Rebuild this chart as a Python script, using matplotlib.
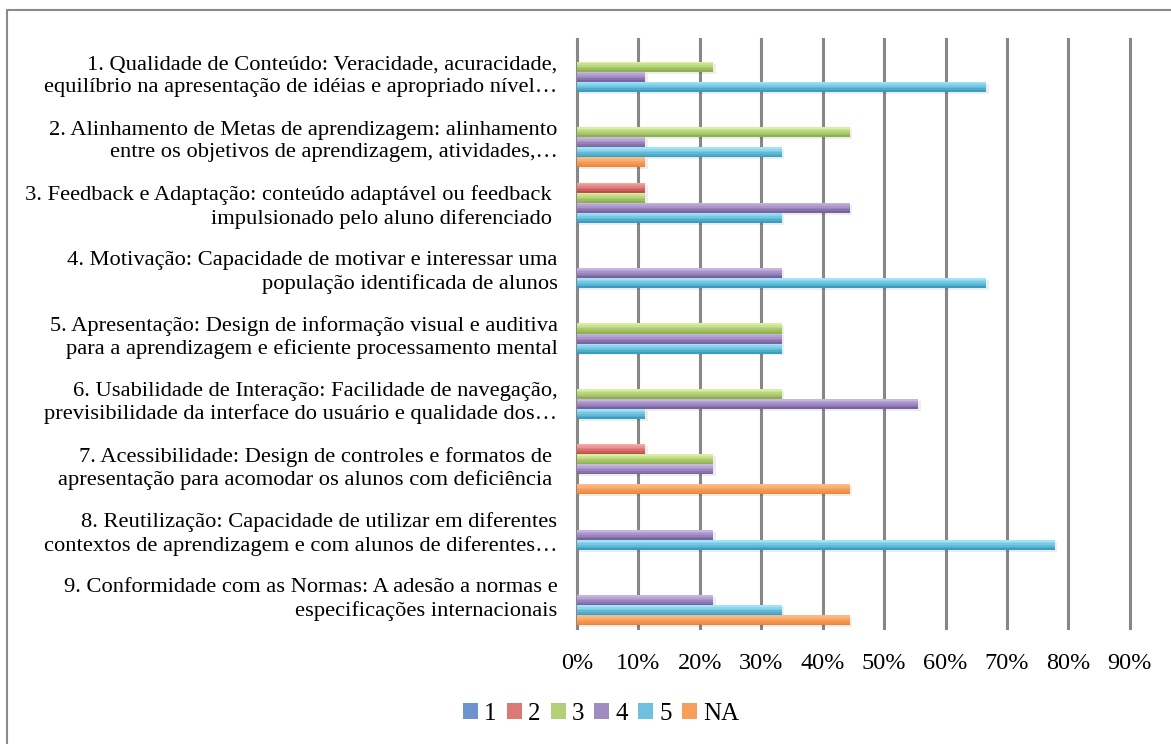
import numpy as np
import matplotlib
matplotlib.use("Agg")
import matplotlib.pyplot as plt
from matplotlib.patches import Patch, Rectangle
from matplotlib.colors import to_rgb

# categories (top to bottom)
categories = [
    "1. Qualidade de Conteúdo: Veracidade, acuracidade,\nequilíbrio na apresentação de idéias e apropriado nível…",
    "2. Alinhamento de Metas de aprendizagem: alinhamento\nentre os objetivos de aprendizagem, atividades,…",
    "3. Feedback e Adaptação: conteúdo adaptável ou feedback \nimpulsionado pelo aluno diferenciado ",
    "4. Motivação: Capacidade de motivar e interessar uma\npopulação identificada de alunos",
    "5. Apresentação: Design de informação visual e auditiva\npara a aprendizagem e eficiente processamento mental",
    "6. Usabilidade de Interação: Facilidade de navegação,\nprevisibilidade da interface do usuário e qualidade dos…",
    "7. Acessibilidade: Design de controles e formatos de \napresentação para acomodar os alunos com deficiência ",
    "8. Reutilização: Capacidade de utilizar em diferentes\ncontextos de aprendizagem e com alunos de diferentes…",
    "9. Conformidade com as Normas: A adesão a normas e\nespecificações internacionais",
]

series_names = ["1", "2", "3", "4", "5", "NA"]

# shares of answers per category (fraction)
s1 = [0, 0, 0, 0, 0, 0, 0, 0, 0]
s2 = [0, 0, 1/9, 0, 0, 0, 1/9, 0, 0]
s3 = [2/9, 4/9, 1/9, 0, 3/9, 3/9, 2/9, 0, 0]
s4 = [1/9, 1/9, 4/9, 3/9, 3/9, 5/9, 2/9, 2/9, 2/9]
s5 = [6/9, 3/9, 3/9, 6/9, 3/9, 1/9, 0, 7/9, 3/9]
sna = [0, 1/9, 0, 0, 0, 0, 4/9, 0, 4/9]
series_values = [s1, s2, s3, s4, s5, sna]

# light / dark ends of the gradient fill
light = ["#9db9eb", "#f5a5a3", "#d7efa0", "#c6b5e2", "#a0e4fa", "#fdb984"]
dark = ["#3e6db0", "#c04c4a", "#8fb050", "#7a62a0", "#3a9ec0", "#ee8534"]

plt.rcParams['font.family'] = ['Liberation Serif', 'DejaVu Serif']

fig = plt.figure(figsize=(11.71, 7.44), dpi=100)
ax = fig.add_axes([577/1171, 1 - 628/744, (1131 - 577)/1171, (628 - 39)/744])

y = np.arange(len(categories))
h = 0.153
nbands = 6

for i, vals in enumerate(series_values):
    pos = y + (i - 2.5) * h
    c0 = np.array(to_rgb(light[i]))
    c1 = np.array(to_rgb(dark[i]))
    # soft shadow
    ax.barh(pos + 0.03, vals, height=h, left=0.004, color="#000000", alpha=0.07, zorder=2)
    for b in range(nbands):
        t = b / (nbands - 1)
        col = c0 * (1 - t) + c1 * t
        ax.barh(pos - h/2 + (b + 0.5) * h / nbands, vals, height=h / nbands,
                color=col, linewidth=0, zorder=3)

ax.set_xlim(0, 0.902)
ax.set_ylim(len(categories) - 0.5, -0.5)
ticks = np.arange(0, 0.91, 0.1)
ax.set_xticks(ticks)
ax.set_xticklabels([f"{int(round(v*100))}%" for v in ticks], fontsize=17.5)
ax.set_yticks(y)
ax.set_yticklabels(categories, fontsize=16.2, linespacing=1.24)
ax.tick_params(axis='both', length=0)
ax.tick_params(axis='x', pad=18)
ax.tick_params(axis='y', pad=14)
for sp in ax.spines.values():
    sp.set_visible(False)
ax.grid(axis='x', color="#878787", linewidth=2.2, zorder=1)
ax.set_axisbelow(True)
for gl in ax.get_xgridlines():
    gl.set_clip_on(False)

handles = []
for i in range(len(series_names)):
    mid = (np.array(to_rgb(light[i])) + np.array(to_rgb(dark[i]))) / 2
    handles.append(Patch(facecolor=tuple(mid), edgecolor='none'))
fig.legend(handles, series_names, loc='center', bbox_to_anchor=(601/1171, 1 - 714/744),
           ncol=6, frameon=False, fontsize=18, handlelength=0.6, handleheight=0.6,
           handletextpad=0.25, columnspacing=0.4)

# chart border (cropped at right/bottom)
fig.patches.append(Rectangle((7/1171, -0.1), 1.2, 1 - 10/744 + 0.1, transform=fig.transFigure,
                             fill=False, edgecolor="#8a8a8a", linewidth=1.5))

fig.savefig("out.png", dpi=100)
